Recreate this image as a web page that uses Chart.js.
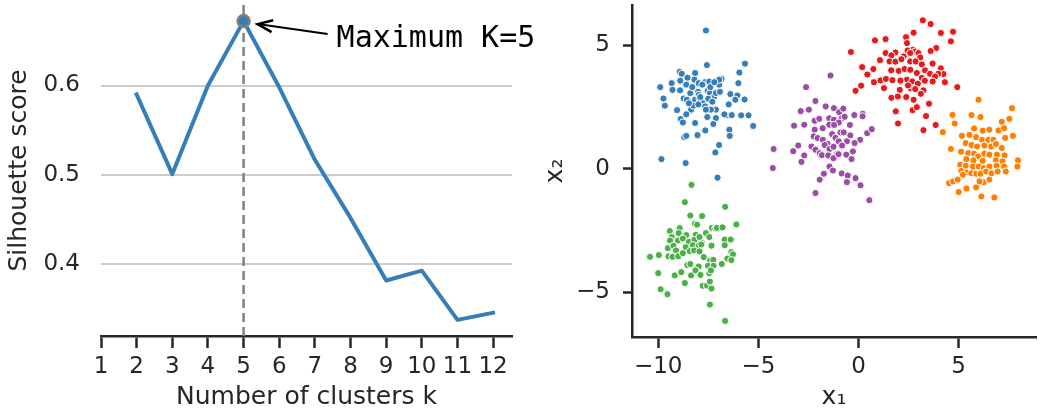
<!DOCTYPE html>
<html>
<head>
<meta charset="utf-8">
<script src="https://cdn.jsdelivr.net/npm/chart.js@4.4.1/dist/chart.umd.min.js"></script>
<style>
    html, body { margin: 0; padding: 0; background: #fff; }
    #wrap { position: relative; width: 1041px; height: 416px; }
    #left { position: absolute; left: 0; top: 0; width: 540px; height: 416px; }
    #right { position: absolute; left: 540px; top: 0; width: 501px; height: 416px; }
</style>
</head>
<body>
<div id="wrap">
    <canvas id="left" width="540" height="416"></canvas>
    <canvas id="right" width="501" height="416"></canvas>
</div>
<script>
'use strict';

// left panel: silhouette score per k
const clusterKs = [2, 3, 4, 5, 6, 7, 8, 9, 10, 11, 12];
const silhouetteScores = [0.590, 0.501, 0.600, 0.672, 0.598, 0.517, 0.452, 0.382, 0.393, 0.338, 0.346];
const annotationText = 'Maximum K=5';

// right panel: the five blobs, [x1, x2]
const blobBlue = [
    [-7.62, 5.59], [-5.67, 4.25], [-7.57, 4.19], [-5.95, 3.89], [-8.93, 3.92], [-8.83, 3.84], [-8.54, 3.68],
    [-8.16, 3.87], [-8.19, 3.60], [-8.90, 3.56], [-9.90, 3.30], [-9.33, 3.46], [-9.29, 3.19], [-8.91, 3.17],
    [-8.60, 3.40], [-7.98, 3.46], [-7.66, 3.50], [-7.45, 3.52], [-6.96, 3.40], [-6.84, 3.63], [-6.96, 3.60],
    [-9.74, 2.84], [-9.67, 2.55], [-8.40, 3.06], [-8.01, 3.11], [-7.98, 2.99], [-7.53, 3.15], [-7.42, 3.06],
    [-7.20, 2.92], [-7.12, 3.06], [-6.92, 3.11], [-6.40, 3.02], [-6.05, 2.96], [-6.00, 3.46], [-5.69, 2.80],
    [-9.06, 2.37], [-8.73, 2.84], [-8.57, 2.79], [-8.36, 2.39], [-8.16, 2.79], [-7.94, 2.84], [-7.78, 2.65],
    [-7.66, 2.52], [-7.50, 2.83], [-7.30, 2.71], [-7.12, 2.39], [-7.37, 2.39], [-8.24, 2.55], [-8.47, 2.65],
    [-6.48, 2.60], [-6.15, 2.79], [-8.88, 2.01], [-8.77, 1.87], [-8.16, 1.85], [-7.62, 2.39], [-7.55, 2.09],
    [-7.12, 2.05], [-6.58, 2.16], [-6.33, 2.17], [-5.86, 2.16], [-5.49, 2.16], [-8.70, 1.28], [-8.60, 1.33],
    [-8.04, 1.36], [-7.65, 1.55], [-7.25, 1.81], [-6.45, 1.58], [-6.43, 1.33], [-5.26, 1.73], [-6.96, 0.96],
    [-7.15, 0.66], [-9.84, 0.39], [-8.63, 0.23], [-7.04, -0.36], [-7.90, 2.90], [-8.30, 3.30], [-7.40, 3.30],
    [-8.60, 2.20], [-7.20, 3.50], [-6.70, 2.20], [-8.00, 2.60], [-7.80, 3.40]
];
const blobGreen = [
    [-8.34, -0.65], [-8.67, -1.35], [-6.66, -1.54], [-8.40, -1.89], [-7.81, -1.91], [-8.17, -2.22], [-8.06, -2.26],
    [-8.93, -2.40], [-9.42, -2.52], [-7.32, -2.39], [-7.15, -2.41], [-7.07, -2.39], [-6.79, -2.37], [-6.10, -2.25],
    [-9.33, -2.76], [-8.98, -2.60], [-8.60, -2.68], [-8.13, -2.67], [-7.62, -2.60], [-7.45, -2.76], [-9.41, -2.90],
    [-9.01, -2.90], [-8.77, -2.82], [-8.47, -2.95], [-8.19, -2.87], [-7.94, -2.76], [-7.81, -3.01], [-6.68, -2.86],
    [-6.38, -2.86], [-9.52, -3.21], [-9.24, -3.11], [-9.11, -3.30], [-8.63, -3.17], [-8.27, -3.09], [-7.98, -3.11],
    [-7.85, -3.06], [-7.34, -3.11], [-6.68, -3.09], [-6.35, -3.37], [-6.27, -3.46], [-10.41, -3.56], [-9.97, -3.49],
    [-9.49, -3.54], [-9.29, -3.56], [-9.00, -3.54], [-8.77, -3.41], [-8.42, -3.33], [-8.21, -3.30], [-7.94, -3.34],
    [-7.73, -3.57], [-7.42, -3.71], [-7.25, -3.68], [-6.55, -3.63], [-6.35, -3.69], [-8.55, -3.89], [-8.40, -3.85],
    [-7.98, -3.95], [-7.52, -3.92], [-7.24, -3.92], [-6.83, -3.85], [-10.00, -4.22], [-9.18, -4.31], [-8.85, -4.18],
    [-8.36, -4.31], [-8.14, -4.11], [-7.89, -4.29], [-7.45, -4.22], [-7.37, -4.11], [-8.67, -4.62], [-7.78, -4.73],
    [-7.57, -4.72], [-7.42, -4.56], [-7.34, -4.84], [-9.88, -4.87], [-9.54, -5.07], [-7.42, -5.49], [-6.66, -6.15]
];
const blobPurple = [
    [-1.40, 3.77], [-2.62, 3.30], [-2.15, 2.74], [-1.64, 2.52], [-2.89, 2.33], [-2.48, 2.39], [-1.23, 2.45],
    [-0.97, 2.29], [-0.76, 2.43], [-0.21, 2.17], [0.21, 2.22], [0.20, 2.12], [-3.22, 1.74], [-2.71, 1.78],
    [-2.19, 1.94], [-1.96, 2.02], [-1.46, 2.04], [-1.23, 1.98], [-0.84, 2.04], [-0.69, 2.10], [-0.43, 1.77],
    [-0.99, 1.87], [-3.01, 0.94], [-3.26, 0.71], [-2.71, 0.54], [-2.85, 0.28], [-4.24, 0.80], [-4.28, 0.03],
    [-2.19, 1.58], [-1.79, 1.64], [-1.46, 1.78], [-1.22, 1.77], [-0.90, 1.47], [-0.74, 1.47], [-0.41, 1.35],
    [0.08, 1.17], [0.43, 1.44], [0.66, 1.60], [-2.24, 1.31], [-2.04, 1.24], [-1.78, 1.17], [-1.55, 1.01],
    [-1.32, 1.40], [-1.15, 1.25], [-0.99, 1.11], [-0.84, 0.90], [-0.58, 1.11], [-0.20, 1.04], [-2.35, 0.90],
    [-2.15, 0.77], [-1.94, 0.63], [-1.69, 0.96], [-1.45, 0.80], [-1.25, 0.89], [-1.07, 0.61], [-0.82, 0.94],
    [-0.61, 0.57], [-0.28, 0.70], [-0.35, 0.39], [-1.83, 0.55], [-1.51, 0.54], [-1.25, 0.43], [-1.00, 0.59],
    [-1.45, 0.09], [-1.28, -0.07], [-1.73, -0.20], [-1.94, -0.44], [-0.84, -0.19], [-0.54, -0.27], [-0.58, -0.54],
    [-0.15, -0.38], [0.10, -0.67], [-2.15, -0.98], [0.54, -1.27]
];
const blobRed = [
    [3.21, 6.00], [3.60, 5.85], [4.72, 5.54], [4.11, 5.49], [2.75, 5.50], [2.37, 5.32], [2.42, 5.08],
    [1.35, 5.24], [0.82, 5.19], [4.61, 5.15], [-0.38, 4.72], [3.88, 4.88], [3.60, 4.76], [2.71, 4.81],
    [2.83, 4.74], [2.45, 4.78], [2.25, 4.54], [1.84, 4.70], [1.35, 4.68], [1.64, 4.58], [2.58, 4.68],
    [2.99, 4.68], [3.08, 4.50], [1.07, 4.39], [1.55, 4.34], [1.84, 4.33], [2.14, 4.43], [2.58, 4.34],
    [2.85, 4.34], [3.16, 4.22], [3.70, 4.25], [0.18, 4.11], [0.74, 4.03], [4.11, 4.06], [4.24, 3.83],
    [3.98, 3.84], [0.44, 3.81], [1.63, 3.98], [2.01, 3.96], [2.30, 4.03], [2.58, 4.00], [2.91, 3.87],
    [3.32, 3.98], [3.57, 3.84], [3.82, 3.73], [3.16, 3.67], [2.42, 3.60], [0.77, 3.50], [1.10, 3.57],
    [1.37, 3.63], [1.69, 3.58], [2.09, 3.56], [2.68, 3.53], [2.96, 3.44], [3.31, 3.56], [3.70, 3.53],
    [4.31, 3.50], [4.93, 3.30], [0.13, 3.36], [-0.15, 3.15], [1.27, 3.26], [2.06, 3.19], [2.60, 3.26],
    [2.83, 3.22], [3.24, 3.17], [2.47, 3.37], [1.64, 2.87], [1.96, 2.92], [2.38, 2.90], [2.75, 2.79],
    [3.11, 3.03], [1.86, 2.32], [2.70, 2.37], [2.91, 2.49], [3.37, 2.13], [3.52, 2.63], [1.97, 1.83],
    [3.24, 1.56], [3.85, 1.77]
];
const blobOrange = [
    [5.99, 2.79], [7.66, 2.45], [4.69, 2.18], [5.64, 2.17], [6.09, 2.09], [7.53, 2.02], [7.15, 1.90],
    [4.80, 1.83], [4.21, 1.48], [5.77, 1.63], [6.20, 1.54], [6.53, 1.58], [6.99, 1.55], [7.27, 1.64],
    [7.71, 1.33], [7.32, 1.25], [5.16, 1.33], [5.54, 1.37], [5.87, 1.28], [6.17, 1.17], [6.48, 1.17],
    [6.73, 1.17], [5.35, 1.04], [5.64, 0.96], [5.92, 0.90], [6.28, 0.94], [6.63, 0.90], [6.86, 1.00],
    [7.15, 0.84], [4.61, 0.80], [5.12, 0.69], [5.48, 0.63], [5.77, 0.61], [5.97, 0.50], [6.28, 0.61],
    [6.53, 0.57], [6.91, 0.57], [7.29, 0.54], [5.38, 0.39], [5.74, 0.34], [6.20, 0.32], [7.96, 0.34],
    [7.93, 0.09], [6.86, 0.34], [7.19, 0.30], [5.08, 0.16], [5.35, 0.12], [5.71, 0.09], [6.00, 0.09],
    [6.25, 0.03], [6.53, 0.09], [6.89, 0.12], [7.27, 0.09], [7.35, -0.11], [5.13, -0.09], [5.41, -0.15],
    [5.63, -0.18], [5.87, -0.20], [6.09, -0.20], [6.37, -0.11], [6.64, -0.18], [6.94, -0.11], [4.52, -0.58],
    [4.72, -0.51], [4.95, -0.44], [5.21, -0.24], [5.87, -0.75], [6.25, -0.54], [6.53, -0.44], [6.04, -0.51],
    [5.00, -0.94], [5.39, -0.80], [6.13, -1.12], [6.78, -1.16]
];

const blue = '#377eb8';
const ink = '#262626';
const tickFont = { family: '"DejaVu Sans"', size: 23 };
const titleFont = { family: '"DejaVu Sans"', size: 25 };

Chart.defaults.font.family = '"DejaVu Sans"';
Chart.defaults.color = ink;
Chart.defaults.animation = false;

const minusSign = (v) => (v < 0 ? '\u2212' + Math.abs(v) : String(v));
// keep the plot boxes where the reference has them
const fixWidth = (w) => (s) => { s.width = w; s.paddingTop = 0; s.paddingBottom = 0; };
const fixHeight = (h) => (s) => { s.height = h; s.paddingLeft = 0; s.paddingRight = 0; };

// dashed line, gray-edged marker and arrow at the best k
const peakPlugin = {
    id: 'peak',
    afterDatasetsDraw(chart) {
        const { ctx, chartArea, scales: { x, y } } = chart;
        const i = silhouetteScores.indexOf(Math.max(...silhouetteScores));
        const px = x.getPixelForValue(clusterKs[i]);
        const py = y.getPixelForValue(silhouetteScores[i]);
        ctx.save();
        ctx.strokeStyle = '#808080';
        ctx.lineWidth = 2.5;
        ctx.setLineDash([9, 5]);
        ctx.beginPath();
        ctx.moveTo(px, chartArea.top);
        ctx.lineTo(px, chartArea.bottom);
        ctx.stroke();
        ctx.setLineDash([]);

        ctx.beginPath();
        ctx.arc(px, py, 6, 0, Math.PI * 2);
        ctx.fillStyle = blue;
        ctx.fill();
        ctx.lineWidth = 2.5;
        ctx.strokeStyle = '#808080';
        ctx.stroke();

        // arrow from the text back to the marker
        const tx = px + 84, ty = py + 13;
        const hx = px + 14, hy = py + 3;
        const len = Math.hypot(hx - tx, hy - ty);
        const ux = (hx - tx) / len, uy = (hy - ty) / len;
        ctx.strokeStyle = '#000';
        ctx.lineWidth = 2;
        ctx.beginPath();
        ctx.moveTo(tx, ty);
        ctx.lineTo(hx, hy);
        ctx.stroke();
        ctx.lineWidth = 2.5;
        ctx.beginPath();
        ctx.moveTo(hx - 15 * ux - 6 * uy, hy - 15 * uy + 6 * ux);
        ctx.lineTo(hx, hy);
        ctx.lineTo(hx - 15 * ux + 6 * uy, hy - 15 * uy - 6 * ux);
        ctx.stroke();

        ctx.font = '30px "DejaVu Sans Mono"';
        ctx.fillStyle = '#000';
        ctx.textBaseline = 'alphabetic';
        ctx.textAlign = 'left';
        ctx.fillText(annotationText, px + 93, py + 26);
        ctx.restore();
    }
};

new Chart(document.getElementById('left'), {
    type: 'line',
    data: {
        datasets: [{
            data: clusterKs.map((k, i) => ({ x: k, y: silhouetteScores[i] })),
            borderColor: blue,
            borderWidth: 4,
            borderCapStyle: 'square',
            borderJoinStyle: 'round',
            pointRadius: 0,
            tension: 0,
            fill: false
        }]
    },
    options: {
        responsive: false,
        events: [],
        layout: { padding: { top: 5, right: 28, left: 0, bottom: 0 } },
        plugins: { legend: { display: false }, tooltip: { enabled: false } },
        scales: {
            x: {
                type: 'linear',
                min: 1,
                max: 12.53,
                afterFit: fixHeight(80),
                ticks: { stepSize: 1, includeBounds: false, font: tickFont, color: ink, padding: 5 },
                grid: { drawOnChartArea: false, drawTicks: true, tickLength: 12, tickWidth: 2.5, tickColor: ink },
                border: { display: true, color: ink, width: 2.5 },
                title: { display: true, text: 'Number of clusters k', font: titleFont, color: ink, padding: { top: 0, bottom: 4 } }
            },
            y: {
                min: 0.32,
                max: 0.69,
                afterFit: fixWidth(101),
                ticks: { stepSize: 0.1, includeBounds: false, font: tickFont, color: ink, padding: 21 },
                grid: { color: '#cccccc', lineWidth: 2, drawTicks: false },
                border: { display: false },
                title: { display: true, text: 'Silhouette score', font: titleFont, color: ink, padding: { top: 4, bottom: 0 } }
            }
        }
    },
    plugins: [peakPlugin]
});

const blobs = [
    [blobBlue, '#377eb8'],
    [blobGreen, '#4daf4a'],
    [blobPurple, '#984ea3'],
    [blobRed, '#e41a1c'],
    [blobOrange, '#ff7f00']
];

new Chart(document.getElementById('right'), {
    type: 'scatter',
    data: {
        datasets: blobs.map(([pts, color]) => ({
            data: pts.map(([x, y]) => ({ x, y })),
            backgroundColor: color,
            borderColor: '#ffffff',
            borderWidth: 1,
            pointRadius: 3.6
        }))
    },
    options: {
        responsive: false,
        events: [],
        layout: { padding: { top: 5, right: 1, left: 0, bottom: 0 } },
        plugins: { legend: { display: false }, tooltip: { enabled: false } },
        scales: {
            x: {
                type: 'linear',
                min: -11.31,
                max: 8.86,
                afterFit: fixHeight(79),
                ticks: { stepSize: 5, includeBounds: false, font: tickFont, color: ink, padding: 5, callback: minusSign },
                grid: { drawOnChartArea: false, drawTicks: true, tickLength: 11, tickWidth: 2.5, tickColor: ink },
                border: { display: true, color: ink, width: 2.5 },
                title: { display: true, text: 'x\u2081', font: titleFont, color: ink, padding: { top: 0, bottom: 4 } }
            },
            y: {
                type: 'linear',
                min: -6.80,
                max: 6.62,
                afterFit: fixWidth(92),
                ticks: { stepSize: 5, includeBounds: false, font: tickFont, color: ink, padding: 13, callback: minusSign },
                grid: { drawOnChartArea: false, drawTicks: true, tickLength: 9, tickWidth: 2.5, tickColor: ink },
                border: { display: true, color: ink, width: 2.5 },
                title: { display: true, text: 'x\u2082', font: titleFont, color: ink, padding: { top: 0, bottom: 0 } }
            }
        }
    }
});
</script>
</body>
</html>
